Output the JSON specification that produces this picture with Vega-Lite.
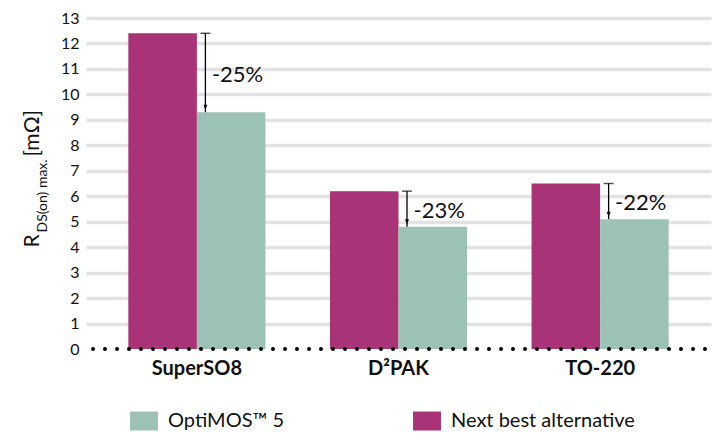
{
  "$schema": "https://vega.github.io/schema/vega-lite/v6.json",
  "width": 619,
  "height": 331,
  "autosize": {"type": "none"},
  "padding": {"left": 86, "top": 18, "right": 15, "bottom": 99},
  "background": "white",
  "config": {
    "font": "Lato",
    "view": {"stroke": null},
    "axis": {"grid": false, "domain": false, "ticks": false},
    "axisX": {"labelFont": "Lato", "labelFontWeight": "bold", "labelFontSize": 20, "labelColor": "#111111", "labelPadding": 9, "labelAngle": 0, "title": null}
  },
  "datasets": {
    "bars": [
      {"package": "SuperSO8", "series": "Next best alternative", "value": 12.4},
      {"package": "SuperSO8", "series": "OptiMOS™ 5", "value": 9.3},
      {"package": "D²PAK", "series": "Next best alternative", "value": 6.2},
      {"package": "D²PAK", "series": "OptiMOS™ 5", "value": 4.8},
      {"package": "TO-220", "series": "Next best alternative", "value": 6.5},
      {"package": "TO-220", "series": "OptiMOS™ 5", "value": 5.1}
    ],
    "arrows": [
      {"package": "SuperSO8", "alt": 12.4, "opti": 9.3, "label": "-25%"},
      {"package": "D²PAK", "alt": 6.2, "opti": 4.8, "label": "-23%"},
      {"package": "TO-220", "alt": 6.5, "opti": 5.1, "label": "-22%"}
    ]
  },
  "resolve": {"scale": {"y": "independent"}},
  "layer": [
    {
      "data": {"name": "bars"},
      "mark": {"type": "bar"},
      "encoding": {
        "x": {
          "field": "package", "type": "nominal", "sort": null, "title": null,
          "scale": {"paddingInner": 0.32, "paddingOuter": 0.21, "range": [0, 625]},
          "axis": {"labelAngle": 0}
        },
        "xOffset": {
          "field": "series", "type": "nominal",
          "scale": {"domain": ["Next best alternative", "OptiMOS™ 5"], "paddingInner": 0}
        },
        "y": {
          "field": "value", "type": "quantitative",
          "scale": {"domain": [0, 13], "nice": false},
          "axis": {
            "orient": "left",
            "values": [0, 1, 2, 3, 4, 5, 6, 7, 8, 9, 10, 11, 12, 13],
            "grid": true,
            "gridColor": {"condition": {"test": "datum.value === 0", "value": "transparent"}, "value": "#E2E2E2"},
            "gridWidth": 3.5,
            "labelFontSize": 16,
            "labelColor": "#111111",
            "labelPadding": 7,
            "title": "R",
            "titleFontSize": 21,
            "titleFontWeight": "normal",
            "titleColor": "#111111",
            "titleAngle": -90,
            "titleAlign": "left",
            "titleBaseline": "alphabetic",
            "titleX": -48,
            "titleY": 229
          }
        },
        "color": {
          "field": "series", "type": "nominal",
          "scale": {"domain": ["OptiMOS™ 5", "Next best alternative"], "range": ["#9CC2B6", "#A93377"]},
          "legend": {
            "title": null,
            "orient": "none",
            "direction": "horizontal",
            "legendX": 48,
            "legendY": 393,
            "padding": 0,
            "symbolType": "M-1.47,-1H1.47V1H-1.47Z",
            "symbolSize": 361,
            "symbolStrokeWidth": 0,
            "labelFontSize": 20,
            "labelColor": "#111111",
            "labelOffset": 14,
            "labelLimit": 400,
            "columnPadding": 128
          }
        }
      }
    },
    {
      "data": {"name": "arrows"},
      "mark": {"type": "rule", "xOffset": 8.5, "strokeWidth": 1.3, "color": "#000000"},
      "encoding": {
        "x": {"field": "package", "type": "nominal", "sort": null, "title": null},
        "y": {
          "field": "alt", "type": "quantitative",
          "scale": {"domain": [0, 13], "nice": false},
          "axis": {
            "orient": "left",
            "labels": false, "grid": false,
            "title": "DS(on) max.",
            "titleFontSize": 14,
            "titleFontWeight": "normal",
            "titleColor": "#111111",
            "titleAngle": -90,
            "titleAlign": "left",
            "titleBaseline": "alphabetic",
            "titleX": -40,
            "titleY": 214
          }
        },
        "y2": {"field": "opti"}
      }
    },
    {
      "data": {"name": "arrows"},
      "mark": {"type": "tick", "orient": "horizontal", "xOffset": 8.5, "size": 10, "thickness": 1.4, "color": "#000000"},
      "encoding": {
        "x": {"field": "package", "type": "nominal", "sort": null, "title": null},
        "y": {
          "field": "alt", "type": "quantitative",
          "scale": {"domain": [0, 13], "nice": false},
          "axis": {
            "orient": "left",
            "labels": false, "grid": false,
            "title": "[mΩ]",
            "titleFontSize": 21,
            "titleFontWeight": "normal",
            "titleColor": "#111111",
            "titleAngle": -90,
            "titleAlign": "left",
            "titleBaseline": "alphabetic",
            "titleX": -48,
            "titleY": 138
          }
        }
      }
    },
    {
      "data": {"name": "arrows"},
      "mark": {"type": "point", "shape": "M0,1L-0.8,-1L0.8,-1Z", "size": 25, "filled": true, "opacity": 1, "xOffset": 8.5, "yOffset": -5, "color": "#000000"},
      "encoding": {
        "x": {"field": "package", "type": "nominal", "sort": null, "title": null},
        "y": {"field": "opti", "type": "quantitative", "scale": {"domain": [0, 13], "nice": false}, "axis": null}
      }
    },
    {
      "data": {"name": "arrows"},
      "transform": [{"calculate": "(datum.alt + datum.opti) / 2", "as": "mid"}],
      "mark": {"type": "text", "align": "left", "baseline": "middle", "xOffset": 15, "dy": 2, "fontSize": 22, "color": "#111111"},
      "encoding": {
        "x": {"field": "package", "type": "nominal", "sort": null, "title": null},
        "y": {"field": "mid", "type": "quantitative", "scale": {"domain": [0, 13], "nice": false}, "axis": null},
        "text": {"field": "label"}
      }
    },
    {
      "data": {"values": [{}]},
      "mark": {"type": "rule", "strokeDash": [0, 12], "strokeCap": "round", "strokeWidth": 4, "color": "#000000"},
      "encoding": {
        "y": {"datum": 0, "scale": {"domain": [0, 13], "nice": false}, "axis": null}
      }
    }
  ]
}
